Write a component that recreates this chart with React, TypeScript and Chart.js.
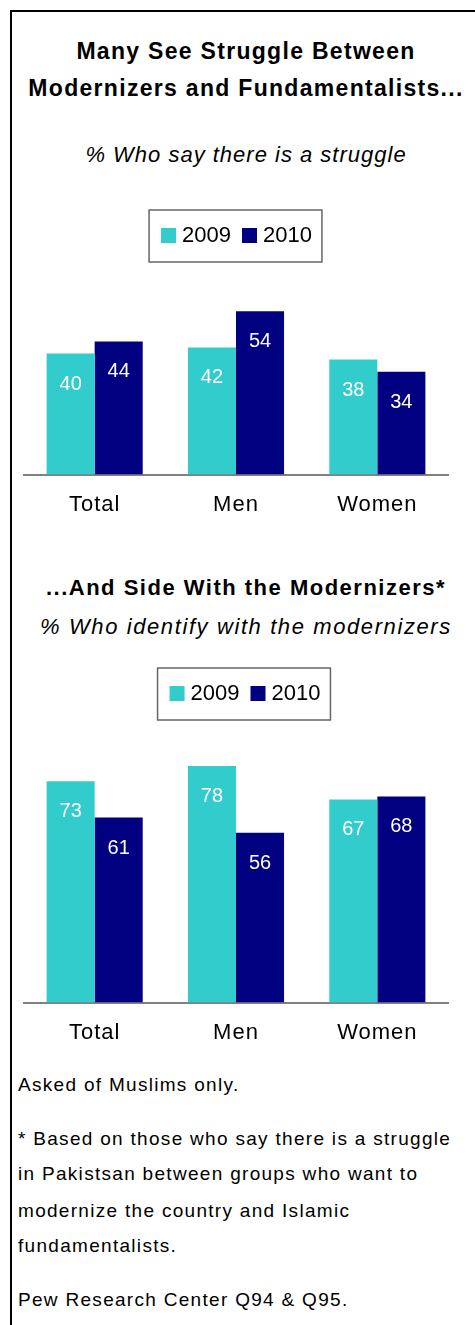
import React, { useEffect, useRef } from "react";
import { Chart, registerables } from "chart.js";

Chart.register(...registerables);

const categories = ["Total", "Men", "Women"];
const seriesLabels = ["2009", "2010"];
const struggle2009 = [40, 42, 38];
const struggle2010 = [44, 54, 34];
const modern2009 = [73, 78, 67];
const modern2010 = [61, 56, 68];
const seriesColors = ["#33CCCC", "#000080"];

const titleLines = ["Many See Struggle Between", "Modernizers and Fundamentalists..."];
const subtitle1 = "% Who say there is a struggle";
const title2 = "...And Side With the Modernizers*";
const subtitle2 = "% Who identify with the modernizers";
const noteLines = [
  "Asked of Muslims only.",
  "* Based on those who say there is a struggle",
  "in Pakistsan between groups who want to",
  "modernize the country and Islamic",
  "fundamentalists.",
  "Pew Research Center Q94 & Q95.",
];

const FONT = "'Liberation Sans', Arial, sans-serif";

const spacingPlugin = {
  id: "spacing",
  beforeDraw(chart: any) {
    chart.ctx.letterSpacing = "1px";
  },
};

const valueLabels = {
  id: "valueLabels",
  afterDatasetsDraw(chart: any) {
    const ctx = chart.ctx;
    ctx.save();
    ctx.letterSpacing = "0px";
    ctx.font = `20px ${FONT}`;
    ctx.fillStyle = "#ffffff";
    ctx.textAlign = "center";
    ctx.textBaseline = "alphabetic";
    chart.data.datasets.forEach((ds: any, i: number) => {
      chart.getDatasetMeta(i).data.forEach((bar: any, j: number) => {
        ctx.fillText(String(ds.data[j]), bar.x, bar.y + 36);
      });
    });
    ctx.restore();
  },
};

const boxLegend = {
  id: "boxLegend",
  afterDraw(chart: any, _args: any, opts: any) {
    const ctx = chart.ctx;
    ctx.save();
    ctx.letterSpacing = "0px";
    ctx.font = `22px ${FONT}`;
    const items = chart.data.datasets.map((ds: any) => ({
      text: ds.label,
      color: ds.backgroundColor,
      w: ctx.measureText(ds.label).width,
    }));
    const padL = 12, padR = 10, sw = 15, gapT = 6, gapItem = 11, h = 52;
    let total = padL + padR;
    items.forEach((it: any, i: number) => {
      total += sw + gapT + it.w + (i > 0 ? gapItem : 0);
    });
    const left = opts.centerX - total / 2;
    const top = opts.top;
    ctx.lineWidth = 1.5;
    ctx.strokeStyle = "#666666";
    ctx.strokeRect(left, top, total, h);
    let x = left + padL;
    items.forEach((it: any) => {
      ctx.fillStyle = it.color;
      ctx.fillRect(x, top + 18, sw, sw);
      x += sw + gapT;
      ctx.fillStyle = "#000000";
      ctx.textAlign = "left";
      ctx.textBaseline = "alphabetic";
      ctx.fillText(it.text, x, top + 32);
      x += it.w + gapItem;
    });
    ctx.restore();
  },
};

type BarProps = {
  top: number;
  height: number;
  a: number[];
  b: number[];
  yMax: number;
  padTop: number;
  legendTop: number;
  legendCenter: number;
};

function BarChart({ top, height, a, b, yMax, padTop, legendTop, legendCenter }: BarProps) {
  const ref = useRef<HTMLCanvasElement>(null);
  useEffect(() => {
    const chart = new Chart(ref.current as HTMLCanvasElement, {
      type: "bar",
      data: {
        labels: categories,
        datasets: [
          { label: seriesLabels[0], data: a, backgroundColor: seriesColors[0], categoryPercentage: 0.68, barPercentage: 1 },
          { label: seriesLabels[1], data: b, backgroundColor: seriesColors[1], categoryPercentage: 0.68, barPercentage: 1 },
        ],
      },
      options: {
        responsive: false,
        animation: false,
        devicePixelRatio: 1,
        layout: { padding: { top: padTop, left: 24, right: 27, bottom: 0 } },
        plugins: {
          legend: { display: false },
          tooltip: { enabled: false },
          title: { display: false },
          boxLegend: { top: legendTop, centerX: legendCenter },
        } as any,
        scales: {
          x: {
            grid: { display: false, drawTicks: false },
            border: { display: true, color: "#808080", width: 2 },
            ticks: { color: "#000000", font: { family: FONT, size: 22 }, padding: 17 },
          },
          y: { display: false, min: 0, max: yMax },
        },
      },
      plugins: [spacingPlugin, valueLabels, boxLegend],
    });
    return () => chart.destroy();
  }, []);
  return (
    <canvas
      ref={ref}
      width={475}
      height={height}
      style={{ position: "absolute", left: 0, top, width: 475, height }}
    />
  );
}

type TxtProps = {
  text: string;
  baseline: number;
  size: number;
  weight?: string;
  italic?: boolean;
  ls?: number;
  left?: number;
};

function Txt({ text, baseline, size, weight = "normal", italic = false, ls = 0, left }: TxtProps) {
  const top = baseline - 0.9465 * size;
  const centered = left === undefined;
  return (
    <div
      style={{
        position: "absolute",
        top,
        left: centered ? 0 : left,
        width: centered ? 492 : undefined,
        textAlign: centered ? "center" : "left",
        fontFamily: FONT,
        fontSize: size,
        lineHeight: `${size * 1.2}px`,
        fontWeight: weight as any,
        fontStyle: italic ? "italic" : "normal",
        letterSpacing: ls,
        whiteSpace: "nowrap",
        color: "#000",
      }}
    >
      {text}
    </div>
  );
}

const noteBaselines = [1091.7, 1145.7, 1180.5, 1218, 1253.3, 1307.3];

export default function App() {
  return (
    <div
      style={{
        position: "absolute",
        left: 0,
        top: 0,
        width: 475,
        height: 1325,
        overflow: "hidden",
        background: "#fff",
      }}
    >
      <div
        style={{
          position: "absolute",
          left: 10,
          top: 10,
          width: 600,
          height: 2000,
          borderLeft: "2px solid #000",
          borderTop: "2px solid #000",
        }}
      />
      <Txt text={titleLines[0]} baseline={59.3} size={23} weight="bold" ls={1.3} />
      <Txt text={titleLines[1]} baseline={96.7} size={23} weight="bold" ls={1.3} />
      <Txt text={subtitle1} baseline={163.3} size={22} italic ls={1} />
      <BarChart top={195} height={340} a={struggle2009} b={struggle2010} yMax={60} padTop={98} legendTop={15} legendCenter={235.5} />
      <Txt text={title2} baseline={595.7} size={22} weight="bold" ls={1.5} />
      <Txt text={subtitle2} baseline={635} size={22} italic ls={1.6} />
      <BarChart top={650} height={413} a={modern2009} b={modern2010} yMax={80} padTop={110} legendTop={18} legendCenter={244} />
      {noteLines.map((t, i) => (
        <Txt key={i} text={t} baseline={noteBaselines[i]} size={19} ls={1.3} left={18} />
      ))}
    </div>
  );
}
